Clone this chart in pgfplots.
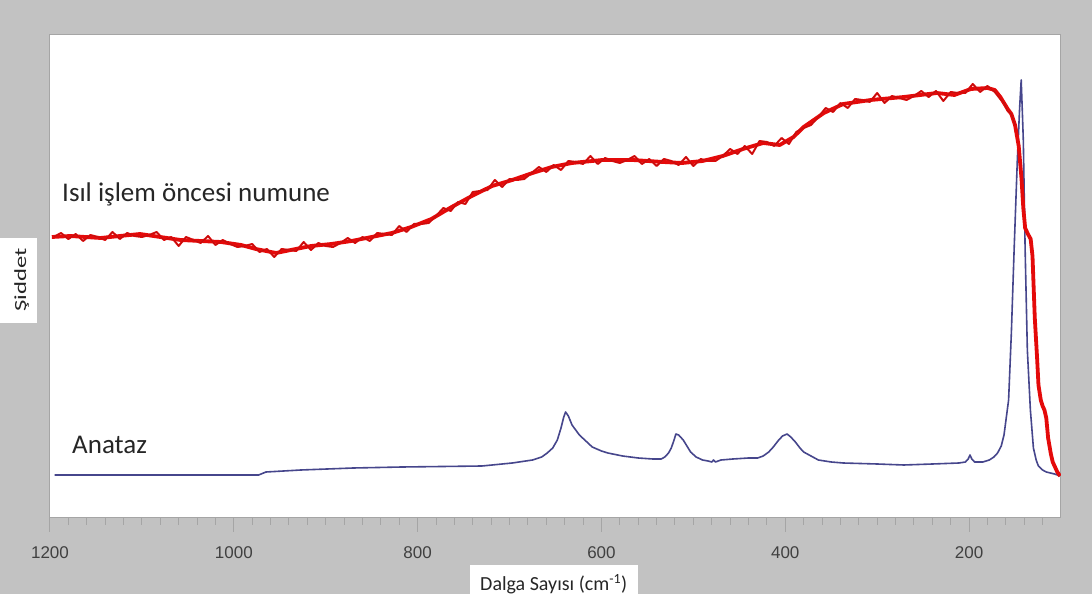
\documentclass[border=0pt]{standalone}
\usepackage{pgfplots}
\pgfplotsset{compat=1.18}
\usepackage{pgfplotstable}
\usepackage{fontspec}
\setmainfont{Carlito}
\newfontfamily\tickfont{Liberation Sans}
\definecolor{bggray}{RGB}{194,194,194}
\definecolor{edgegray}{RGB}{165,165,165}
\definecolor{anablue}{RGB}{70,70,140}
\definecolor{redline}{RGB}{228,10,10}
\definecolor{darkred}{RGB}{150,25,25}
\pgfplotstableread{
w y
1198 281
1178 282
1145 280
1124 282
1102 284
1080 281
1058 278
1036 277
1014 276
992 273
976 269
954 265
938 268
916 272
894 274
872 277
850 281
828 285
807 291
785 299
763 311
741 322
719 332
697 338
675 345
654 351
632 355
599 358
566 358
533 356
512 355
490 357
468 362
446 369
424 375
406 373
391 381
380 391
358 405
337 414
307 418
271 421
235 425
216 423
198 429
180 430
172 428
166 421
162 415
158 409
154 404
150 393
146 372
143 340
141 310
139 290
136 284
133 279
131 262
128.5 200
126 160
124.5 133
122 118
120 112
118 108
116 100
114 80
111 64
109 56
106 50
104 46
101 42
}\redbase
\pgfplotstableread{
w y
1196 281
1188 285
1180 279
1172 284
1164 277
1156 283
1148 281
1140 278
1132 286
1124 279
1116 285
1108 282
1100 281
1092 283
1084 286
1076 278
1068 281
1060 272
1052 281
1044 278
1036 275
1028 282
1020 273
1012 278
1004 274
996 271
988 272
980 274
972 266
964 269
956 261
948 269
940 268
932 267
924 276
916 268
908 275
900 272
892 271
884 275
876 280
868 275
860 281
852 277
844 285
836 284
828 283
820 292
812 286
804 294
796 294
788 295
780 302
772 310
764 307
756 316
748 314
740 326
732 327
724 328
716 338
708 331
700 339
692 338
684 339
676 345
668 351
660 346
652 353
644 348
636 357
628 356
620 354
612 362
604 354
596 360
588 357
580 355
572 358
564 362
556 354
548 359
540 352
532 359
524 357
516 353
508 361
500 352
492 359
484 357
476 357
468 362
460 369
452 364
444 372
436 364
428 377
420 376
412 372
404 380
396 374
388 386
380 390
372 393
364 401
356 410
348 406
340 415
332 410
324 419
316 418
308 416
300 425
292 415
284 422
276 420
268 418
260 422
252 427
244 421
236 427
228 417
220 426
212 425
204 425
196 434
188 426
180 432
172 426
166 419
162 415
158 407
154 404
150 393
}\rednoise
\begin{document}
\begin{tikzpicture}
\fill[bggray] (0,0) rectangle (1092pt,594pt);
\begin{axis}[
  at={(50pt,76pt)}, anchor=south west, scale only axis,
  width=1011pt, height=483pt,
  xmin=100, xmax=1200, x dir=reverse, ymin=0, ymax=483,
  axis background/.style={fill=white},
  axis line style={draw=edgegray, line width=1pt},
  xtick={200,400,600,800,1000,1200},
  minor xtick={120,140,...,1180},
  xtick pos=bottom,
  tick align=outside, major tick length=14pt, minor tick length=7pt,
  every tick/.style={draw=edgegray, line width=1pt},
  ytick=\empty,
  xticklabel style={font=\tickfont\fontsize{17}{17}\selectfont, text=black!75, yshift=-11pt},
  /pgf/number format/assume math mode=true,
  /pgf/number format/1000 sep={},
  clip=true,
]
% Anataz (blue)
\addplot[anablue, line width=1.6pt, line join=round] coordinates {
(1195,43) (973,43) (965,46) (927,48) (870,50) (817,51) (730,52) (697,55) (675,58) (665,61) (659,65) (653,70) (648,78) (644,90) (641,101) (639,106) (636,102) (632,93) (624,83) (617,77) (610,71) (600,67) (593,65) (577,62) (560,60) (544,59) (535,59) (531,61) (527,65) (524,70) (521,78) (519,84) (516,83) (511,78) (507,72) (503,66) (497,61) (490,58) (484,57) (480,56) (478,58) (476,56) (470,58) (457,59) (440,60) (430,60) (424,62) (418,66) (413,71) (408,77) (403,82) (398,84) (394,81) (389,76) (384,70) (380,66) (372,62) (364,58) (350,56) (337,55) (300,54) (271,53) (240,54) (211,55) (204,56) (201,59) (199,63) (197,59) (194,56) (185,56) (178,58) (173,61) (169,65) (165,72) (162,83) (160,97) (157,118) (154,185) (151,268) (147.5,358) (145,410) (143.3,438) (142,405) (141,378) (139,268) (136.6,168) (133.3,108) (130,70) (127,58) (124.6,52) (120,48) (116,46) (107,44) (101,42)
};
% Isil islem oncesi numune (red)
\addplot[redline, line width=3.8pt, line join=round] table[x=w,y=y] {\redbase};
\addplot[redline, line width=2pt, line join=round] table[x=w,y=y] {\rednoise};
\addplot[darkred, line width=0.5pt, opacity=0.7] table[x=w,y=y] {\rednoise};
\end{axis}
% text labels
\node[anchor=base west, inner sep=0, font=\fontsize{27}{27}\selectfont, text=black!85] at (62pt,392pt) {Isıl işlem öncesi numune};
\node[anchor=base west, inner sep=0, font=\fontsize{27}{27}\selectfont, text=black!85] at (72pt,140pt) {Anataz};
% x axis label box
\fill[white] (470pt,-2pt) rectangle (638pt,29pt);
\node[anchor=base west, inner sep=0, font=\fontsize{20}{20}\selectfont, text=black!85] at (480pt,3pt) {Dalga Sayısı (cm\textsuperscript{-1})};
% y axis label box
\fill[white] (0pt,271pt) rectangle (37pt,356pt);
\node[anchor=base, inner sep=0, rotate=90, font=\fontsize{17}{17}\selectfont, text=black!85] at (26pt,314pt) {\scalebox{1.45}[1]{Şiddet}};
\pgfresetboundingbox
\path (0,0) rectangle (1092pt,594pt);
\end{tikzpicture}
\end{document}
